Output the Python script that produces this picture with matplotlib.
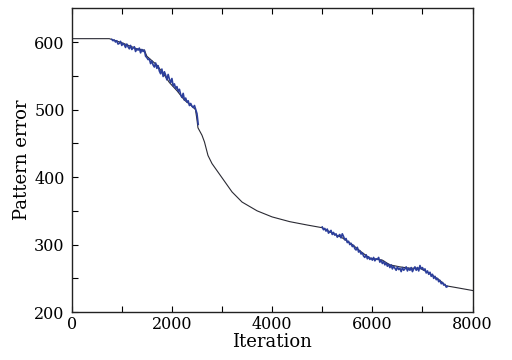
import numpy as np
import matplotlib
matplotlib.use("Agg")
import matplotlib.pyplot as plt

# Smooth (black) curve: iteration, pattern error
trend_x = [0, 750, 1000, 1300, 1450, 1500, 1700, 1850, 1950, 2100, 2250, 2400, 2470,
           2500, 2520, 2600, 2650, 2720, 2800, 3000, 3200, 3400, 3700, 4000, 4350,
           4700, 5000, 5200, 5400, 5600, 5800, 5950, 6200, 6350, 6550, 6750, 6950,
           7150, 7330, 7470, 7700, 8000]
trend_y = [605, 605, 599, 590, 588, 579, 566, 551, 540, 528, 514, 505, 500,
           485, 473, 462, 452, 432, 420, 399, 378, 363, 350, 341, 334,
           329, 325, 317, 310, 300, 288, 280, 277, 270, 267, 265, 265,
           257, 248, 239, 236, 232]

# Noisy (blue) segments, sampled every 25 iterations
seg1_start, seg1_step = 800, 25
seg1_y = [604, 602, 603, 600, 602, 597, 598, 601, 595, 598,
          596, 592, 597, 593, 590, 595, 589, 591, 593, 586,
          590, 588, 591, 584, 589, 586, 588, 579, 577, 574,
          575, 568, 572, 566, 563, 569, 561, 565, 557, 553,
          560, 549, 556, 551, 544, 552, 545, 540, 546, 535,
          538, 531, 534, 527, 530, 522, 518, 524, 514, 517,
          511, 513, 506, 509, 505, 503, 506, 500, 494, 478]

seg2_start, seg2_step = 5000, 25
seg2_y = [326, 322, 324, 320, 323, 317, 319, 321, 315, 318,
          314, 316, 311, 313, 315, 310, 316, 312, 307, 309,
          303, 305, 300, 302, 297, 299, 294, 292, 296, 289,
          291, 286, 288, 283, 281, 285, 279, 282, 278, 280,
          277, 281, 276, 279, 278, 281, 274, 277, 272, 275,
          270, 273, 268, 271, 266, 270, 264, 268, 265, 262,
          267, 263, 265, 260, 266, 262, 264, 267, 261, 265,
          262, 266, 260, 264, 267, 262, 266, 261, 269, 264,
          266, 262, 264, 258, 261, 256, 259, 253, 256, 250,
          253, 248, 250, 245, 247, 242, 244, 240, 241, 237,
          238]

x_ticks = [0, 2000, 4000, 6000, 8000]
y_ticks = [200, 300, 400, 500, 600]

seg1_x = seg1_start + seg1_step * np.arange(len(seg1_y))
seg2_x = seg2_start + seg2_step * np.arange(len(seg2_y))

plt.rcParams['font.family'] = ['DejaVu Serif']
fig = plt.figure(figsize=(5.12, 3.6), dpi=100)
ax = fig.add_axes([0.140, 0.133, 0.783, 0.844])

ax.plot(trend_x, trend_y, color='#2a2a33', lw=0.8, zorder=2)
ax.plot(seg1_x, seg1_y, color='#2c3f9c', lw=1.2, zorder=3)
ax.plot(seg2_x, seg2_y, color='#2c3f9c', lw=1.2, zorder=3)

ax.set_xlim(0, 8000)
ax.set_ylim(200, 650)
ax.set_xticks(x_ticks)
ax.set_yticks(y_ticks)
ax.set_xticks(np.arange(1000, 8000, 2000), minor=True)
ax.set_yticks(np.arange(250, 650, 100), minor=True)
ax.tick_params(which='both', direction='in', length=4, width=0.8, top=True,
               right=False, labelsize=11.5)
ax.tick_params(axis='x', pad=3)
ax.tick_params(axis='y', pad=5)
for s in ax.spines.values():
    s.set_linewidth(1.0)
    s.set_color('#222222')
ax.set_xlabel('Iteration', fontsize=13, labelpad=0)
ax.set_ylabel('Pattern error', fontsize=13, labelpad=2)

fig.savefig('out.png', dpi=100)
